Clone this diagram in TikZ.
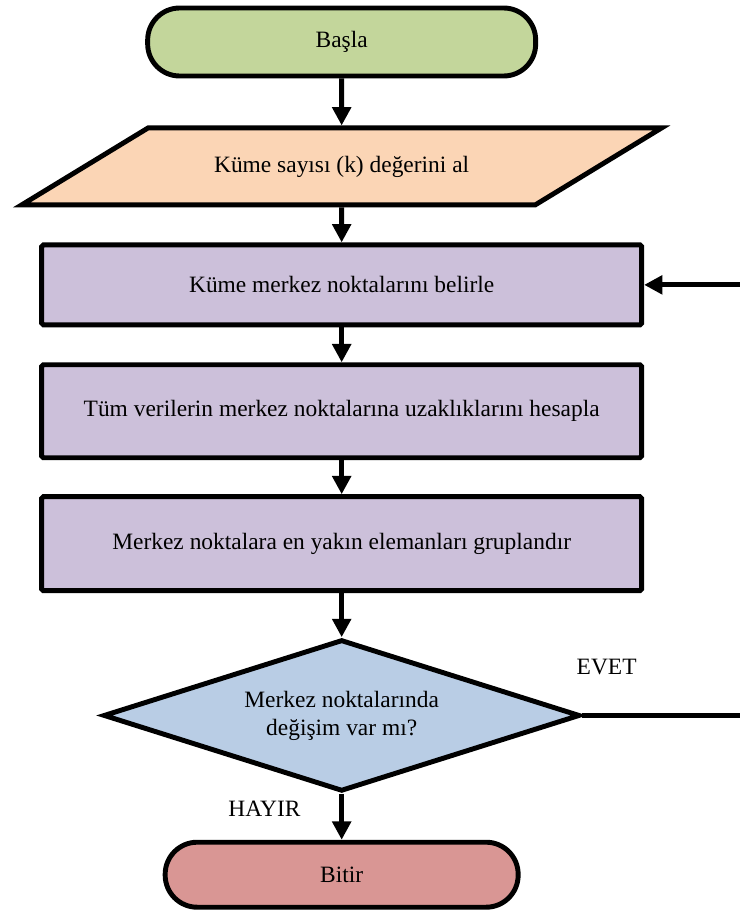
\documentclass[tikz,border=0pt]{standalone}
\usepackage{fontspec}
\setmainfont{Liberation Serif}
\usetikzlibrary{arrows.meta,positioning,shapes.geometric}
\definecolor{startgreen}{HTML}{C3D69B}
\definecolor{ioorange}{HTML}{FBD5B5}
\definecolor{proclilac}{HTML}{CCC0DA}
\definecolor{decblue}{HTML}{B9CDE5}
\definecolor{endrose}{HTML}{D99694}

\begin{document}
\begin{tikzpicture}[
    box/.style={draw, line width=4.2pt, align=center, inner sep=4pt, font=\fontsize{20}{24}\selectfont},
    terminal/.style={box, rounded corners=0.96cm},
    io/.style={box, trapezium, trapezium left angle=31, trapezium right angle=149, trapezium stretches body=true, inner ysep=0.82cm, fill=ioorange, minimum width=19.2cm, minimum height=2.31cm},
    process/.style={box, rounded corners=1.5pt, fill=proclilac, minimum width=18cm},
    decision/.style={box, diamond, aspect=3.1, fill=decblue, minimum width=14.3cm, minimum height=4.55cm, inner sep=0pt},
    answer/.style={inner sep=0pt, font=\fontsize{20}{24}\selectfont},
    arrow/.style={-{Triangle[length=0.55cm, width=0.55cm]}, line width=4.2pt},
    line/.style={line width=4.2pt}
  ]
    \useasboundingbox (0,0) rectangle (22.2,-27.39);
    \node[terminal, fill=startgreen, minimum width=11.64cm, minimum height=2.04cm] (basla) at (10.25,-1.26) {Başla};
    \node[io, below=1.41cm of basla] (kgir) {Küme sayısı (k) değerini al};
    \node[process, minimum height=2.4cm, below=1.05cm of kgir] (merkez) {Küme merkez noktalarını belirle};
    \node[process, minimum height=2.79cm, below=1.05cm of merkez] (uzaklik) {Tüm verilerin merkez noktalarına uzaklıklarını hesapla};
    \node[process, minimum height=2.82cm, below=1.02cm of uzaklik] (grupla) {Merkez noktalara en yakın elemanları gruplandır};
    \node[decision, below=1.32cm of grupla] (degisim) {Merkez noktalarında\\değişim var mı?};
    \node[terminal, fill=endrose, minimum width=10.59cm, minimum height=1.95cm, below=1.38cm of degisim] (bitir) {Bitir};
    \node[answer, above right=1.2cm and -0.18cm of degisim.east] (evet) {EVET};
    \node[answer, below left=0.21cm and 1.23cm of degisim.south] (hayir) {HAYIR};
    \coordinate (sag) at (22.2,0);
    \coordinate (donus) at (merkez.east -| sag);
    \coordinate (cikis) at (degisim.east -| sag);
    \draw[arrow] (basla) -- (kgir);
    \draw[arrow] (kgir) -- (merkez);
    \draw[arrow] (merkez) -- (uzaklik);
    \draw[arrow] (uzaklik) -- (grupla);
    \draw[arrow] (grupla) -- (degisim);
    \draw[arrow] (degisim) -- (bitir);
    \draw[arrow] (donus) -- (merkez.east);
    \draw[line] (degisim.east) -- (cikis);
  \end{tikzpicture}
\end{document}
